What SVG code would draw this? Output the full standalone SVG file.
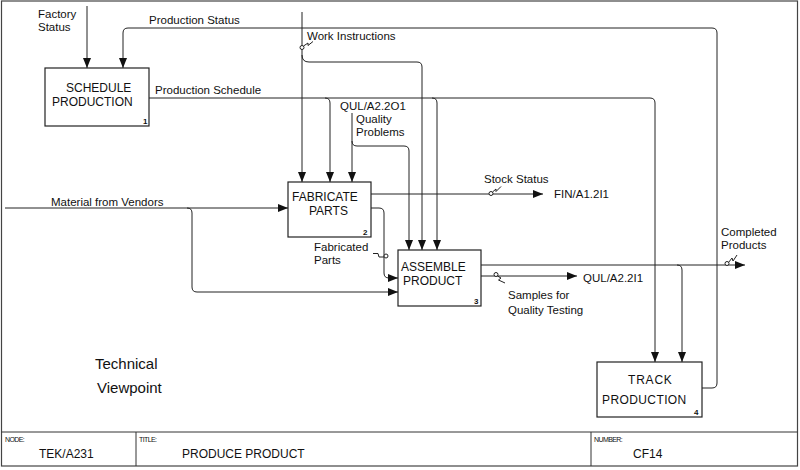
<svg xmlns="http://www.w3.org/2000/svg" width="800" height="470" viewBox="0 0 800 470">
<defs>
<marker id="ah" viewBox="0 0 10 8" refX="10" refY="4" markerWidth="10" markerHeight="8" markerUnits="userSpaceOnUse" orient="auto">
<path d="M0,0 L10,4 L0,8 Z" fill="#111"/>
</marker>
<style>
.t{font-family:"Liberation Sans",Arial,sans-serif;font-size:11.5px;fill:#111}
.b{font-family:"Liberation Sans",Arial,sans-serif;font-size:12px;fill:#111}
.n{font-family:"Liberation Sans",Arial,sans-serif;font-size:8px;font-weight:bold;fill:#111}
.s{font-family:"Liberation Sans",Arial,sans-serif;font-size:7px;fill:#111;letter-spacing:-0.6px}
.box{fill:#fff;stroke:#222;stroke-width:1.2}
.c{fill:none;stroke:#222;stroke-width:1}
.a{fill:none;stroke:#222;stroke-width:1;marker-end:url(#ah)}
.sq{fill:none;stroke:#222;stroke-width:1}
.ci{fill:#fff;stroke:#222;stroke-width:1}
</style>
</defs>
<rect x="0" y="0" width="800" height="470" fill="#fff"/>
<g id="frame">
<rect x="1.5" y="1" width="796" height="465" fill="none" stroke="#444" stroke-width="1.2"/>
<line x1="1.5" y1="432" x2="797.5" y2="432" stroke="#333" stroke-width="1"/>
<line x1="136" y1="432" x2="136" y2="466" stroke="#333" stroke-width="1"/>
<line x1="591" y1="432" x2="591" y2="466" stroke="#333" stroke-width="1"/>
<text class="s" x="5" y="442">NODE:</text>
<text class="s" x="139" y="442">TITLE:</text>
<text class="s" x="594" y="442">NUMBER:</text>
<text class="b" x="39" y="458">TEK/A231</text>
<text class="b" x="182" y="458">PRODUCE PRODUCT</text>
<text class="b" x="633" y="458">CF14</text>
</g>
<g id="connectors">
<path class="a" d="M87,6 V68"/>
<path class="a" d="M702,388 H712 Q717,388 717,383 V33 Q717,28 712,28 H128 Q123,28 123,33 V68"/>
<path class="a" d="M302,12 V182"/>
<path class="a" d="M302,55 Q302,62 309,62 H417 Q422,62 422,67 V250"/>
<path class="a" d="M149,98 H650 Q655,98 655,103 V362"/>
<path class="a" d="M325,98 Q330,98 330,103 V182"/>
<path class="a" d="M432,98 Q437,98 437,103 V250"/>
<path class="a" d="M352,113 V182"/>
<path class="a" d="M352,141 Q352,146 357,146 H404 Q409,146 409,151 V250"/>
<path class="a" d="M5,208 H288"/>
<path class="a" d="M187,208 Q192,208 192,213 V287 Q192,292 197,292 H398"/>
<path class="a" d="M371,194 H543"/>
<path class="a" d="M371,208 H379 Q384,208 384,213 V273 Q384,278 389,278 H398"/>
<path class="a" d="M481,265 H745"/>
<path class="a" d="M677,265 Q682,265 682,270 V362"/>
<path class="a" d="M481,276 H577"/>
<path class="sq" d="M303.5,46 L308,43 L308,45.5 L313,41.5"/>
<circle class="ci" cx="302" cy="47.5" r="2"/>
<path class="sq" d="M492.5,192 L496,189 L496,191.5 L501,186.5"/>
<circle class="ci" cx="491" cy="193.5" r="2"/>
<path class="sq" d="M373,253.5 L378,253.5 L379,257 L384,257"/>
<circle class="ci" cx="386" cy="256" r="2"/>
<path class="sq" d="M497.5,276 L501,278 L498.5,280 L505,283"/>
<circle class="ci" cx="496" cy="274.5" r="2"/>
<path class="sq" d="M728.5,262.5 L732,258 L733,261 L737,255"/>
<circle class="ci" cx="727" cy="263.5" r="2"/>
</g>
<g id="labels">
<text class="t" x="38" y="18">Factory</text>
<text class="t" x="38" y="31">Status</text>
<text class="t" x="149" y="24">Production Status</text>
<text class="t" x="155" y="94">Production Schedule</text>
<text class="t" x="307" y="40">Work Instructions</text>
<text class="t" x="340" y="110">QUL/A2.2O1</text>
<text class="t" x="356" y="123">Quality</text>
<text class="t" x="356" y="136">Problems</text>
<text class="t" x="51" y="206">Material from Vendors</text>
<text class="t" x="484" y="183">Stock Status</text>
<text class="t" x="554" y="198">FIN/A1.2I1</text>
<text class="t" x="314" y="251">Fabricated</text>
<text class="t" x="314" y="264">Parts</text>
<text class="t" x="721" y="236">Completed</text>
<text class="t" x="721" y="249">Products</text>
<text class="t" x="583" y="282">QUL/A2.2I1</text>
<text class="t" x="508" y="299">Samples for</text>
<text class="t" x="508" y="314">Quality Testing</text>
<text x="95" y="369" style="font-family:'Liberation Sans',Arial,sans-serif;font-size:15px;fill:#111">Technical</text>
<text x="97" y="393" style="font-family:'Liberation Sans',Arial,sans-serif;font-size:15px;fill:#111">Viewpoint</text>
</g>
<g id="node1">
<rect class="box" x="45" y="68" width="104" height="58"/>
<text class="b" x="66" y="92">SCHEDULE</text>
<text class="b" x="52" y="106">PRODUCTION</text>
<text class="n" x="143" y="124">1</text>
</g>
<g id="node2">
<rect class="box" x="288" y="182" width="83" height="55"/>
<text class="b" x="292" y="201">FABRICATE</text>
<text class="b" x="309" y="215">PARTS</text>
<text class="n" x="363" y="235">2</text>
</g>
<g id="node3">
<rect class="box" x="398" y="250" width="83" height="56"/>
<text class="b" x="401" y="271">ASSEMBLE</text>
<text class="b" x="403" y="285">PRODUCT</text>
<text class="n" x="474" y="304">3</text>
</g>
<g id="node4">
<rect class="box" x="597" y="362" width="105" height="55"/>
<text class="b" x="628" y="384" style="letter-spacing:0.8px">TRACK</text>
<text class="b" x="602" y="404" style="letter-spacing:0.4px">PRODUCTION</text>
<text class="n" x="694" y="415">4</text>
</g>
</svg>
